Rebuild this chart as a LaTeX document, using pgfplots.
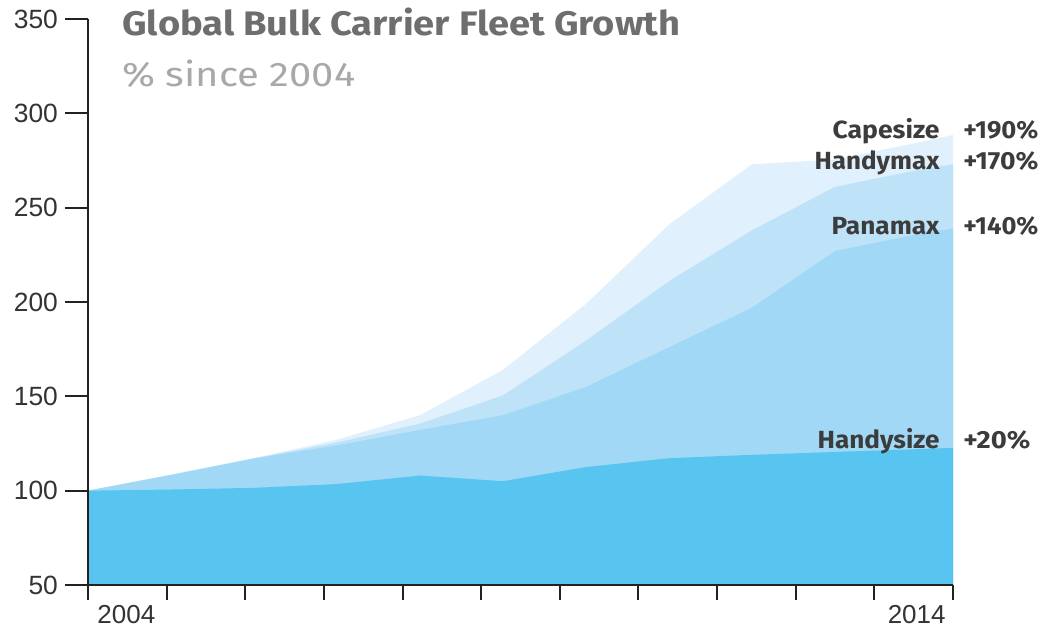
\documentclass[border=0pt]{standalone}
\usepackage{fontspec}
\setmainfont{Liberation Sans}
\newfontfamily\dinfont{Fira Sans}
\usepackage{graphicx}
\usepackage{pgfplots}
\pgfplotsset{compat=1.18}
\definecolor{cHs}{RGB}{88,196,240}
\definecolor{cPm}{RGB}{160,216,245}
\definecolor{cHm}{RGB}{190,227,249}
\definecolor{cCs}{RGB}{224,240,252}
\definecolor{axisc}{RGB}{34,34,34}
\definecolor{tickc}{RGB}{51,51,51}
\definecolor{titlec}{RGB}{110,110,110}
\definecolor{subc}{RGB}{168,168,168}
\definecolor{labc}{RGB}{60,60,60}

\pgfplotstableread{
x y
0 100
1.055 108.6
2.111 117.2
3.166 127
4.222 140
5.277 164
6.333 199
7.388 241
8.444 273
9.499 275.5
10.555 284.5
11 288.5
}\capesize
\pgfplotstableread{
x y
0 100
1.055 108.3
2.111 117.2
3.166 125.5
4.222 135.5
5.277 150.5
6.333 179.5
7.388 211
8.444 238
9.499 261
10.555 270
11 273
}\handymax
\pgfplotstableread{
x y
0 100
1.055 108.3
2.111 117
3.166 124
4.222 132.2
5.277 140
6.333 155
7.388 176
8.444 197
9.499 227
10.555 236
11 239
}\panamax
\pgfplotstableread{
x y
0 100
1.055 100.6
2.111 101.5
3.166 103.5
4.222 108
5.277 105
6.333 112.5
7.388 117.2
8.444 119
9.499 120.5
10.555 122
11 122.7
}\handysize

\begin{document}
\begin{tikzpicture}
\useasboundingbox (-44pt,-22.5pt) rectangle (477pt,292.5pt);
\begin{axis}[
  at={(0,0)}, anchor=south west,
  scale only axis, width=432.5pt, height=283pt,
  xmin=0, xmax=11, ymin=50, ymax=350,
  axis on top,
  axis x line=none, axis y line=left,
  y axis line style={-, line width=1pt, color=axisc},
  ytick={50,100,...,350}, xtick=\empty,
  tick align=outside, major tick length=11.5pt,
  ytick style={line width=1pt, color=axisc},
  yticklabel style={font=\fontsize{13.2}{15}\selectfont, color=tickc},
  /pgf/number format/assume math mode=true,
]
\addplot[fill=cCs, draw=none] table {\capesize} \closedcycle;
\addplot[fill=cHm, draw=none] table {\handymax} \closedcycle;
\addplot[fill=cPm, draw=none] table {\panamax} \closedcycle;
\addplot[fill=cHs, draw=none] table {\handysize} \closedcycle;
\end{axis}
\begin{axis}[
  at={(0,0)}, anchor=south west,
  scale only axis, width=432.5pt, height=283pt,
  xmin=0, xmax=11, ymin=50, ymax=350,
  axis y line=none, axis x line=bottom,
  x axis line style={-, line width=1pt, color=axisc, shorten <=-11.5pt},
  xtick={0,1,...,11}, xticklabels={}, ytick=\empty,
  tick align=outside, major tick length=7.5pt,
  xtick style={line width=1pt, color=axisc},
]
\end{axis}
\node[anchor=base west, inner sep=0, font=\fontsize{13}{15}\selectfont, color=tickc] at (4.5pt,-19.5pt) {2004};
\node[anchor=base east, inner sep=0, font=\fontsize{13}{15}\selectfont, color=tickc] at (429pt,-19.5pt) {2014};
\node[anchor=base west, inner sep=0, font=\dinfont\bfseries\fontsize{17}{19}\selectfont, color=titlec] at (17pt,274.5pt) {\resizebox{279pt}{\height}{Global Bulk Carrier Fleet Growth}};
\node[anchor=base west, inner sep=0, font=\dinfont\fontsize{17}{19}\selectfont, color=subc] at (17pt,249pt) {\resizebox{116.5pt}{\height}{\% since 2004}};
\begin{scope}[every node/.style={inner sep=0, font=\dinfont\bfseries\fontsize{12.4}{14}\selectfont, color=labc}]
\node[anchor=base east] at (426pt,223pt) {\resizebox{53.5pt}{\height}{Capesize}};
\node[anchor=base west] at (437.5pt,223pt) {\resizebox{37.5pt}{\height}{+190\%}};
\node[anchor=base east] at (426pt,207.5pt) {\resizebox{62.5pt}{\height}{Handymax}};
\node[anchor=base west] at (437.5pt,207.5pt) {\resizebox{37.5pt}{\height}{+170\%}};
\node[anchor=base east] at (426pt,175pt) {\resizebox{54pt}{\height}{Panamax}};
\node[anchor=base west] at (437.5pt,175pt) {\resizebox{37.5pt}{\height}{+140\%}};
\node[anchor=base east] at (426pt,68pt) {\resizebox{61pt}{\height}{Handysize}};
\node[anchor=base west] at (437.5pt,68pt) {\resizebox{33.5pt}{\height}{+20\%}};
\end{scope}
\end{tikzpicture}
\end{document}
